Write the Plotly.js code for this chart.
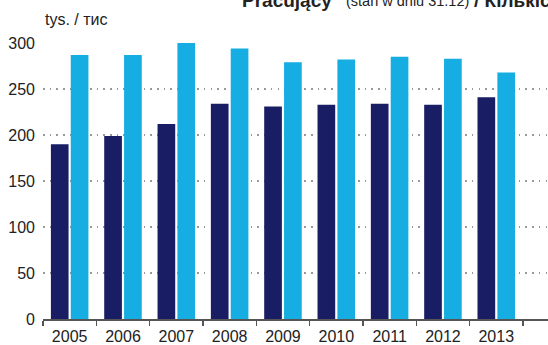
<!DOCTYPE html>
<html><head><meta charset="utf-8">
<script src="https://cdn.plot.ly/plotly-3.0.1.min.js"></script>
<style>html,body{margin:0;padding:0;background:#fff;}#chart{width:548px;height:345px;}</style>
</head><body><div id="chart"></div>
<script>
var years = ['2005','2006','2007','2008','2009','2010','2011','2012','2013'];
var seriesDark = [190, 199, 212, 234, 231, 233, 234, 233, 241];
var seriesLight = [287, 287, 300, 294, 279, 282, 285, 283, 268];
var yTicks = [0, 50, 100, 150, 200, 250, 300];
var titleBold = 'Pracujący';
var titleNote = '(stan w dniu 31.12)';
var titleUa = '/ Кількість працюючих';
var unitLabel = 'tys. / тис';

var FONT = '"Liberation Sans", Arial, sans-serif';
var traces = [
  {type:'bar', x: years, y: seriesDark, marker:{color:'#191d63'}, hoverinfo:'none'},
  {type:'bar', x: years, y: seriesLight, marker:{color:'#15ade2'}, hoverinfo:'none'}
];
function px(x){ return (x-43)/505; }
var layout = {
  width:548, height:345,
  margin:{l:43, r:0, t:43, b:26},
  paper_bgcolor:'#fff', plot_bgcolor:'#fff',
  showlegend:false,
  barmode:'group', bargap:0.255, bargroupgap:0.11,
  font:{family:FONT, size:16, color:'#222'},
  xaxis:{
    type:'category', range:[-0.5, 8.97], fixedrange:true,
    showgrid:false, zeroline:false,
    showline:true, linecolor:'#555', linewidth:1.5,
    ticks:'outside', tickson:'boundaries', ticklen:5, tickcolor:'#555', tickwidth:1.5,
    ticklabelstandoff:2,
    tickfont:{family:FONT, size:16, color:'#222'},
    automargin:false
  },
  yaxis:{
    range:[0, 300], tickvals:yTicks, fixedrange:true,
    showgrid:true, gridcolor:'#999999', gridwidth:1.2, griddash:'1.6px,5.1px',
    zeroline:false, showline:false, ticks:'',
    ticklabelstandoff:7,
    tickfont:{family:FONT, size:16, color:'#222'},
    automargin:false
  },
  annotations:[
    {xref:'paper', yref:'paper', x:0, y:1, xanchor:'left', yanchor:'bottom', yshift:13,
     text:unitLabel, showarrow:false, font:{family:FONT, size:16, color:'#222'}},
    {xref:'paper', yref:'paper', x:px(240), y:1, xanchor:'left', yanchor:'middle', yshift:43,
     text:'<b>'+titleBold+'</b>', showarrow:false, font:{family:FONT, size:19, color:'#222'}},
    {xref:'paper', yref:'paper', x:px(344), y:1, xanchor:'left', yanchor:'middle', yshift:42,
     text:titleNote, showarrow:false, font:{family:FONT, size:14.5, color:'#222'}},
    {xref:'paper', yref:'paper', x:px(472), y:1, xanchor:'left', yanchor:'middle', yshift:43,
     text:'<b>'+titleUa+'</b>', showarrow:false, font:{family:FONT, size:19, color:'#222'}}
  ]
};
Plotly.newPlot('chart', traces, layout, {staticPlot:true, displayModeBar:false});
</script>
</body></html>
